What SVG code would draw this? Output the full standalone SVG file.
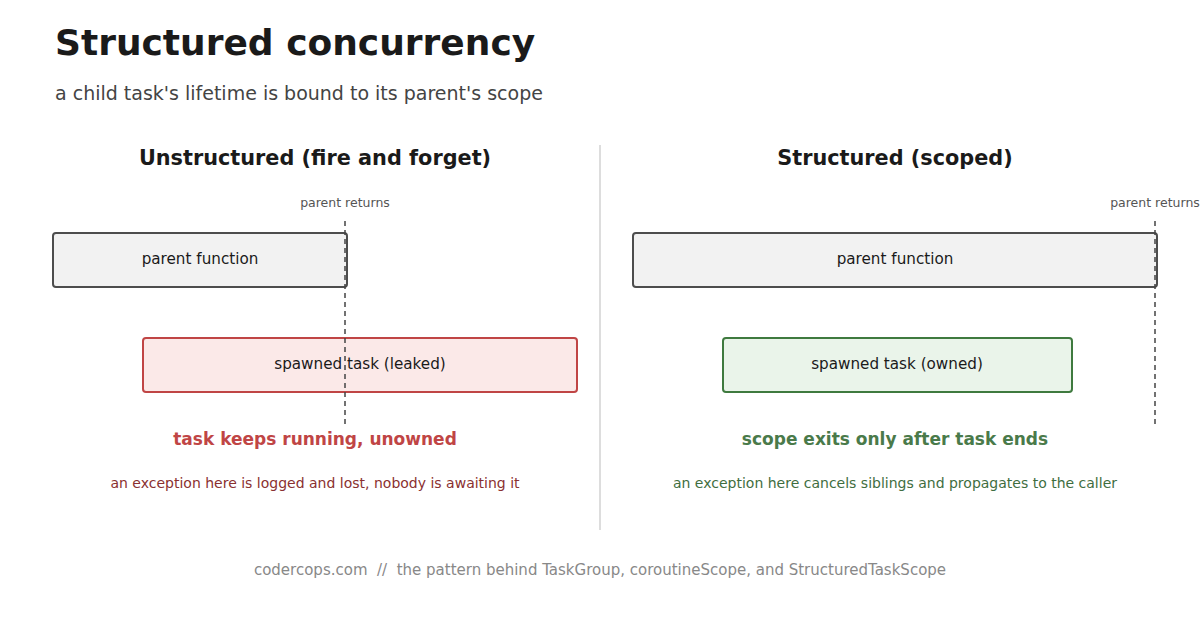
<svg xmlns="http://www.w3.org/2000/svg" width="1200" height="630" viewBox="0 0 1200 630">
<style>
text{font-family:"DejaVu Sans",sans-serif}
.h{font-size:20.8px;font-weight:bold;fill:#1a1a1a;text-anchor:middle}
.lbl{font-size:15.2px;fill:#1a1a1a;text-anchor:middle}
.pr{font-size:12.5px;fill:#555;text-anchor:middle}
.dash{stroke:#444;stroke-width:1.5;stroke-dasharray:5,4}
.box{stroke-width:2}
</style>
<rect width="1200" height="630" fill="#fff"/>
<text x="55" y="55" font-size="36" font-weight="bold" fill="#1a1a1a">Structured concurrency</text>
<text x="55" y="100" font-size="19" fill="#444">a child task's lifetime is bound to its parent's scope</text>
<line x1="600" y1="145" x2="600" y2="530" stroke="#ddd" stroke-width="2"/>
<text class="h" x="315" y="165">Unstructured (fire and forget)</text>
<text class="h" x="895" y="165">Structured (scoped)</text>
<g id="left-parent"><rect class="box" x="53" y="233" width="294" height="54" rx="3" fill="#f2f2f2" stroke="#4d4d4d"/><text class="lbl" x="200" y="264">parent function</text></g>
<g id="left-task"><rect class="box" x="143" y="338" width="434" height="54" rx="3" fill="#fbe9e8" stroke="#c04545"/><text class="lbl" x="360" y="369">spawned task (leaked)</text></g>
<g id="right-parent"><rect class="box" x="633" y="233" width="524" height="54" rx="3" fill="#f2f2f2" stroke="#4d4d4d"/><text class="lbl" x="895" y="264">parent function</text></g>
<g id="right-task"><rect class="box" x="723" y="338" width="349" height="54" rx="3" fill="#eaf4ea" stroke="#3f7a3f"/><text class="lbl" x="897" y="369">spawned task (owned)</text></g>
<g id="connectors">
<line class="dash" x1="345" y1="221" x2="345" y2="424"/>
<line class="dash" x1="1155" y1="221" x2="1155" y2="424"/>
</g>
<text class="pr" x="345" y="207">parent returns</text>
<text class="pr" x="1155" y="207">parent returns</text>
<text x="315" y="445" font-size="17" font-weight="bold" fill="#c04545" text-anchor="middle">task keeps running, unowned</text>
<text x="895" y="445" font-size="17" font-weight="bold" fill="#4a7a4a" text-anchor="middle">scope exits only after task ends</text>
<text x="315" y="488" font-size="14" fill="#8a3030" text-anchor="middle">an exception here is logged and lost, nobody is awaiting it</text>
<text x="895" y="488" font-size="14" fill="#3f6e3f" text-anchor="middle">an exception here cancels siblings and propagates to the caller</text>
<text x="600" y="575" font-size="15" fill="#888" text-anchor="middle" xml:space="preserve">codercops.com  //  the pattern behind TaskGroup, coroutineScope, and StructuredTaskScope</text>
</svg>
